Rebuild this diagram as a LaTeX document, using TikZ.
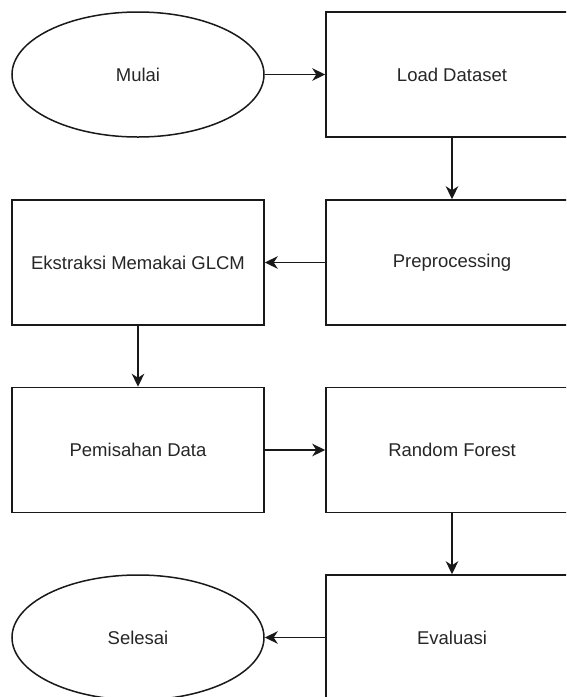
\documentclass[tikz,border=0pt]{standalone}
\usepackage{fontspec}
\setmainfont{Liberation Sans}
\usetikzlibrary{shapes.geometric,arrows.meta}
\begin{document}
\begin{tikzpicture}[x=1pt,y=-1pt,
  base/.style={draw=black!90, line width=1.5pt, inner sep=0pt, font=\fontsize{18.5}{22}\selectfont, text=black!85},
  procbox/.style={base, rectangle, minimum width=252pt, minimum height=125pt},
  term/.style={base, ellipse, minimum width=252pt, minimum height=125pt},
  flow/.style={draw=black!90, line width=1.5pt, -{Stealth[length=13pt,width=12.5pt,inset=4pt]}}]
\useasboundingbox (0,0) rectangle (566,697);
\clip (0,0) rectangle (566,697);
\node[term] (mulai) at (138,74.5) {Mulai};
\node[procbox] (load) at (452,74.5) {Load Dataset};
\node[procbox] (pre) at (452,262.5) {Preprocessing};
\node[procbox] (eks) at (138,262.5) {Ekstraksi Memakai GLCM};
\node[procbox] (pem) at (138,450) {Pemisahan Data};
\node[procbox] (rf) at (452,450) {Random Forest};
\node[procbox] (eva) at (452,637.5) {Evaluasi};
\node[term] (sel) at (138,637.5) {Selesai};
\draw[flow] (mulai) -- (load);
\draw[flow] (load) -- (pre);
\draw[flow] (pre) -- (eks);
\draw[flow] (eks) -- (pem);
\draw[flow] (pem) -- (rf);
\draw[flow] (rf) -- (eva);
\draw[flow] (eva) -- (sel);
\end{tikzpicture}
\end{document}
